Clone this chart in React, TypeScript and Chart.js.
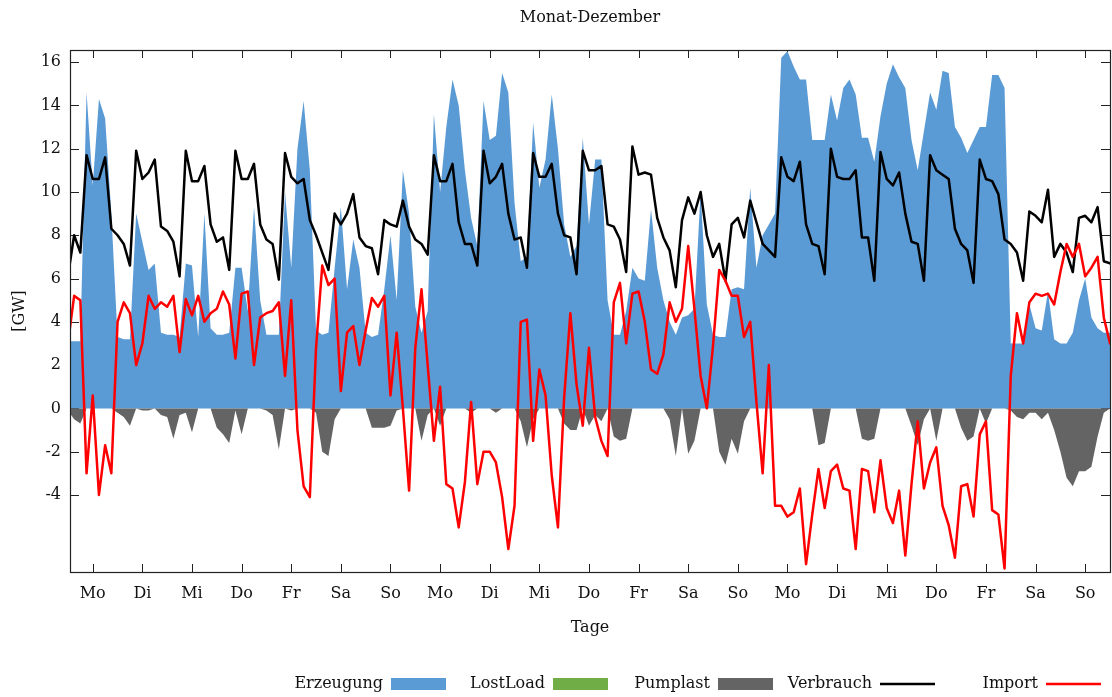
import React, { useEffect, useRef } from 'react';
import { Chart, registerables } from 'chart.js';

Chart.register(...registerables);

const FONT = '"DejaVu Serif", serif';
const TEXT = '#111111';

// x axis: hours of a 3-week period, tick every day at noon
const dayNames = ['Mo', 'Di', 'Mi', 'Do', 'Fr', 'Sa', 'So', 'Mo', 'Di', 'Mi', 'Do', 'Fr', 'Sa', 'So', 'Mo', 'Di', 'Mi', 'Do', 'Fr', 'Sa', 'So'];
const dayTickHours = [12, 36, 60, 84, 108, 132, 156, 180, 204, 228, 252, 276, 300, 324, 348, 372, 396, 420, 444, 468, 492];
const yTickValues = [-4, -2, 0, 2, 4, 6, 8, 10, 12, 14, 16];
const sampleStepHours = 3; // one value every 3 hours

// [GW], one row per day (8 samples), final value at hour 504
const erzeugung = [
  3.1, 3.1, 3.1, 14.6, 10.3, 14.3, 13.4, 9.0,
  3.3, 3.2, 3.2, 9.0, 7.7, 6.4, 6.7, 3.5,
  3.4, 3.4, 3.3, 6.7, 6.6, 3.3, 9.0, 3.7,
  3.4, 3.4, 3.5, 6.5, 6.5, 4.5, 9.3, 5.0,
  3.4, 3.4, 3.4, 10.0, 6.5, 12.0, 14.2, 11.0,
  3.6, 3.4, 3.5, 6.5, 9.3, 5.5, 7.8, 6.5,
  3.5, 3.3, 3.4, 5.5, 8.0, 5.0, 11.0, 9.0,
  4.7, 3.5, 4.5, 13.6, 10.0, 13.0, 15.2, 14.0,
  11.0, 8.8, 7.5, 14.2, 12.4, 12.6, 15.5, 14.6,
  9.5, 6.8, 7.0, 13.2, 10.2, 11.5, 14.5, 12.0,
  8.5, 7.0, 7.5, 12.5, 8.5, 11.5, 11.5, 5.0,
  3.4, 3.4, 4.5, 6.5, 6.0, 5.9, 9.2, 6.5,
  5.0, 4.0, 3.4, 4.2, 4.3, 4.6, 10.0, 4.8,
  3.4, 3.3, 3.3, 5.5, 5.6, 5.5, 10.2, 6.5,
  8.0, 8.5, 9.0, 16.2, 16.5, 15.8, 15.2, 15.2,
  12.4, 12.4, 12.4, 14.5, 13.3, 14.8, 15.2, 14.5,
  12.5, 12.5, 11.4, 13.5, 15.0, 15.9, 15.3, 14.8,
  12.4, 11.0, 12.8, 14.6, 13.8, 15.6, 15.5, 13.0,
  12.5, 11.8, 12.4, 13.0, 13.0, 15.4, 15.4, 14.8,
  3.0, 3.0, 3.0, 4.8, 3.7, 3.6, 5.4, 3.2,
  3.0, 3.0, 3.5, 5.0, 6.0, 4.2, 3.7, 3.5,
  3.5,
];

const lostLoad = [
  0, 0, 0, 0, 0, 0, 0, 0,
  0, 0, 0, 0, 0, 0, 0, 0,
  0, 0, 0, 0, 0, 0, 0, 0,
  0, 0, 0, 0, 0, 0, 0, 0,
  0, 0, 0, 0, 0, 0, 0, 0,
  0, 0, 0, 0, 0, 0, 0, 0,
  0, 0, 0, 0, 0, 0, 0, 0,
  0, 0, 0, 0, 0, 0, 0, 0,
  0, 0, 0, 0, 0, 0, 0, 0,
  0, 0, 0, 0, 0, 0, 0, 0,
  0, 0, 0, 0, 0, 0, 0, 0,
  0, 0, 0, 0, 0, 0, 0, 0,
  0, 0, 0, 0, 0, 0, 0, 0,
  0, 0, 0, 0, 0, 0, 0, 0,
  0, 0, 0, 0, 0, 0, 0, 0,
  0, 0, 0, 0, 0, 0, 0, 0,
  0, 0, 0, 0, 0, 0, 0, 0,
  0, 0, 0, 0, 0, 0, 0, 0,
  0, 0, 0, 0, 0, 0, 0, 0,
  0, 0, 0, 0, 0, 0, 0, 0,
  0, 0, 0, 0, 0, 0, 0, 0,
  0,
];

const pumplast = [
  -0.1, -0.5, -0.7, 0, 0, 0, 0, 0,
  -0.2, -0.4, -0.8, 0, -0.1, -0.1, 0, -0.3,
  -0.4, -1.4, -0.3, -0.2, -1.1, 0, 0, 0,
  -0.9, -1.2, -1.6, -0.1, -1.2, 0, 0, 0,
  -0.1, -0.3, -1.9, 0, -0.1, 0, 0, 0,
  -0.2, -2.0, -2.2, -0.5, 0, 0, 0, 0,
  0, -0.9, -0.9, -0.9, -0.8, -0.1, 0, 0,
  0, -1.5, -0.3, 0, -0.8, 0, 0, 0,
  0, -0.2, 0, 0, 0, -0.2, 0, 0,
  0, -0.6, -1.8, -0.5, 0, 0, 0, 0,
  -0.7, -1.0, -1.0, 0, -0.8, -0.3, -0.6, 0,
  -1.3, -1.5, -1.4, 0, 0, 0, 0, 0,
  0, -0.5, -2.2, 0, -2.1, -1.5, 0, 0,
  0, -2.0, -2.6, -1.4, -2.1, -0.6, 0, 0,
  0, 0, 0, 0, 0, 0, 0, 0,
  0, -1.7, -1.6, 0, 0, 0, 0, 0,
  -1.4, -1.5, -1.4, 0, 0, 0, 0, 0,
  -0.8, -1.7, -0.5, 0, -1.5, 0, 0, 0,
  -0.9, -1.5, -1.3, 0, -0.7, 0, 0, 0,
  -0.1, -0.4, -0.5, -0.2, -0.2, -0.5, -0.2, -1.0,
  -2.0, -3.2, -3.6, -2.9, -2.9, -2.7, -1.3, -0.2,
  0,
];

const verbrauch = [
  6.1, 8.0, 7.2, 11.7, 10.6, 10.6, 11.6, 8.3,
  8.0, 7.6, 6.6, 11.9, 10.6, 10.9, 11.5, 8.4,
  8.2, 7.7, 6.1, 11.9, 10.5, 10.5, 11.2, 8.5,
  7.7, 7.9, 6.4, 11.9, 10.6, 10.6, 11.3, 8.5,
  7.8, 7.6, 5.95, 11.8, 10.7, 10.4, 10.6, 8.7,
  8.0, 7.2, 6.4, 9.0, 8.5, 9.0, 9.9, 7.9,
  7.5, 7.4, 6.2, 8.7, 8.5, 8.4, 9.6, 8.4,
  7.8, 7.6, 7.1, 11.7, 10.5, 10.5, 11.3, 8.6,
  7.6, 7.6, 6.6, 11.9, 10.4, 10.7, 11.3, 9.0,
  7.8, 7.9, 6.5, 11.8, 10.7, 10.7, 11.3, 9.0,
  8.0, 7.9, 6.2, 11.9, 11.0, 11.0, 11.2, 8.5,
  8.4, 7.8, 6.3, 12.1, 10.8, 10.9, 10.8, 8.8,
  7.9, 7.3, 5.6, 8.7, 9.75, 9.0, 10.0, 8.0,
  7.0, 7.6, 5.9, 8.5, 8.8, 7.9, 9.6, 8.6,
  7.6, 7.3, 7.0, 11.6, 10.7, 10.5, 11.4, 8.5,
  7.6, 7.5, 6.2, 12.0, 10.7, 10.6, 10.6, 11.0,
  7.9, 7.9, 5.9, 11.85, 10.6, 10.3, 10.9, 9.0,
  7.7, 7.6, 5.9, 11.7, 11.0, 10.8, 10.6, 8.3,
  7.6, 7.3, 5.8, 11.5, 10.6, 10.5, 9.9, 7.8,
  7.6, 7.2, 5.9, 9.1, 8.9, 8.6, 10.1, 7.0,
  7.6, 7.2, 6.3, 8.8, 8.9, 8.6, 9.3, 6.8,
  6.7,
];

const importGW = [
  3.0, 5.2, 5.0, -3.0, 0.6, -4.0, -1.7, -3.0,
  4.0, 4.9, 4.4, 2.0, 3.0, 5.2, 4.6, 4.9,
  4.7, 5.2, 2.6, 5.05, 4.3, 5.2, 4.0, 4.4,
  4.6, 5.4, 4.8, 2.3, 5.3, 5.4, 2.0, 4.2,
  4.4, 4.5, 4.9, 1.5, 5.0, -1.0, -3.6, -4.1,
  2.8, 6.6, 5.7, 6.0, 0.8, 3.5, 3.8, 2.0,
  3.6, 5.1, 4.7, 5.2, 0.6, 3.5, 0.0, -3.8,
  2.8, 5.5, 2.0, -1.5, 1.0, -3.5, -3.7, -5.5,
  -3.4, 0.3, -3.5, -2.0, -2.0, -2.5, -4.1, -6.5,
  -4.5, 4.0, 4.1, -1.5, 1.8, 0.6, -3.1, -5.5,
  0.5, 4.4, 1.1, -0.8, 2.8, -0.4, -1.5, -2.2,
  4.9, 5.8, 3.0, 5.3, 5.4, 4.0, 1.8, 1.6,
  2.5, 4.9, 4.0, 4.6, 7.5, 4.6, 1.5, 0.0,
  2.9, 6.4, 5.9, 5.2, 5.2, 3.3, 4.0, 0.3,
  -3.0, 2.0, -4.5, -4.5, -5.0, -4.8, -3.7, -7.2,
  -4.9, -2.8, -4.6, -2.9, -2.6, -3.7, -3.8, -6.5,
  -2.8, -2.9, -4.8, -2.4, -4.6, -5.3, -3.8, -6.8,
  -3.5, -0.6, -3.7, -2.5, -1.8, -4.5, -5.4, -6.9,
  -3.6, -3.5, -5.0, -1.2, -0.6, -4.7, -4.9, -7.4,
  1.5, 4.4, 3.0, 4.9, 5.3, 5.2, 5.3, 4.8,
  6.3, 7.6, 7.0, 7.6, 6.1, 6.5, 7.0, 4.2,
  3.0,
];

const COLORS = {
  erzeugung: '#5b9bd5',
  lostLoad: '#70ad47',
  pumplast: '#646464',
  verbrauch: '#000000',
  import: '#ff0000',
};

const toPoints = (vals: number[]) => vals.map((y, i) => ({ x: i * sampleStepHours, y }));

const legendEntries = [
  { label: 'Erzeugung', color: COLORS.erzeugung, kind: 'box', sampleX: 391 },
  { label: 'LostLoad', color: COLORS.lostLoad, kind: 'box', sampleX: 553 },
  { label: 'Pumplast', color: COLORS.pumplast, kind: 'box', sampleX: 718 },
  { label: 'Verbrauch', color: COLORS.verbrauch, kind: 'line', sampleX: 880 },
  { label: 'Import', color: COLORS.import, kind: 'line', sampleX: 1046 },
];

const gnuplotFrame = {
  id: 'gnuplotFrame',
  beforeDatasetsDraw(chart: any) {
    const { ctx, chartArea: a, scales } = chart;
    ctx.save();
    ctx.strokeStyle = '#222222';
    ctx.lineWidth = 1;
    ctx.beginPath();
    for (const h of dayTickHours) {
      const x = Math.round(scales.x.getPixelForValue(h)) + 0.5;
      ctx.moveTo(x, a.bottom);
      ctx.lineTo(x, a.bottom - 8);
      ctx.moveTo(x, a.top);
      ctx.lineTo(x, a.top + 8);
    }
    for (const v of yTickValues) {
      const y = Math.round(scales.y.getPixelForValue(v)) + 0.5;
      ctx.moveTo(a.left, y);
      ctx.lineTo(a.left + 9, y);
      ctx.moveTo(a.right, y);
      ctx.lineTo(a.right - 9, y);
    }
    ctx.stroke();
    ctx.restore();
  },
  afterDraw(chart: any) {
    const { ctx, chartArea: a } = chart;
    ctx.save();
    ctx.strokeStyle = '#222222';
    ctx.lineWidth = 1.2;
    ctx.strokeRect(Math.round(a.left) + 0.5, Math.round(a.top) + 0.5, Math.round(a.right - a.left), Math.round(a.bottom - a.top));

    const cx = (a.left + a.right) / 2;
    ctx.fillStyle = TEXT;
    ctx.font = `16px ${FONT}`;
    ctx.textAlign = 'center';
    ctx.textBaseline = 'middle';
    ctx.fillText('Monat-Dezember', cx, 18);
    ctx.fillText('Tage', cx, 628);

    ctx.save();
    ctx.translate(20, (a.top + a.bottom) / 2);
    ctx.rotate(-Math.PI / 2);
    ctx.fillText('[GW]', 0, 0);
    ctx.restore();

    const ly = 684;
    for (const e of legendEntries) {
      ctx.fillStyle = TEXT;
      ctx.textAlign = 'right';
      ctx.fillText(e.label, e.sampleX - 8, ly);
      if (e.kind === 'box') {
        ctx.fillStyle = e.color;
        ctx.fillRect(e.sampleX, ly - 6, 55, 12);
      } else {
        ctx.strokeStyle = e.color;
        ctx.lineWidth = 2.5;
        ctx.beginPath();
        ctx.moveTo(e.sampleX, ly);
        ctx.lineTo(e.sampleX + 55, ly);
        ctx.stroke();
      }
    }
    ctx.restore();
  },
};

export default function App() {
  const canvasRef = useRef<HTMLCanvasElement | null>(null);

  useEffect(() => {
    document.body.style.margin = '0';
    const canvas = canvasRef.current;
    if (!canvas) return;
    const tickFont = { family: FONT, size: 16 };
    const chart = new Chart(canvas, {
      type: 'line',
      data: {
        datasets: [
          {
            label: 'Import',
            data: toPoints(importGW),
            borderColor: COLORS.import,
            borderWidth: 2.5,
            fill: false,
            order: 0,
          },
          {
            label: 'Verbrauch',
            data: toPoints(verbrauch),
            borderColor: COLORS.verbrauch,
            borderWidth: 2.5,
            fill: false,
            order: 1,
          },
          {
            label: 'Pumplast',
            data: toPoints(pumplast),
            borderWidth: 0,
            borderColor: 'rgba(0,0,0,0)',
            backgroundColor: COLORS.pumplast,
            fill: 'origin',
            order: 2,
          },
          {
            label: 'LostLoad',
            data: toPoints(lostLoad),
            borderWidth: 0,
            borderColor: 'rgba(0,0,0,0)',
            backgroundColor: COLORS.lostLoad,
            fill: 'origin',
            order: 3,
          },
          {
            label: 'Erzeugung',
            data: toPoints(erzeugung),
            borderWidth: 0,
            borderColor: 'rgba(0,0,0,0)',
            backgroundColor: COLORS.erzeugung,
            fill: 'origin',
            order: 4,
          },
        ],
      },
      options: {
        responsive: false,
        animation: false,
        devicePixelRatio: 1,
        layout: { padding: { left: 0, right: 2, top: 50, bottom: 0 } },
        elements: {
          point: { radius: 0, hoverRadius: 0 },
          line: { tension: 0, borderJoinStyle: 'round', borderCapStyle: 'round' },
        },
        plugins: {
          legend: { display: false },
          title: { display: false },
          tooltip: { enabled: false },
        },
        events: [],
        scales: {
          x: {
            type: 'linear',
            min: 1,
            max: 504,
            grid: { display: false, drawTicks: false },
            border: { display: false },
            ticks: {
              autoSkip: false,
              maxRotation: 0,
              padding: 12,
              color: TEXT,
              font: tickFont,
              callback: (v: any) => {
                const idx = dayTickHours.indexOf(Number(v));
                return idx >= 0 ? dayNames[idx] : '';
              },
            },
            afterBuildTicks: (s: any) => {
              s.ticks = dayTickHours.map((v) => ({ value: v }));
            },
            afterFit: (s: any) => {
              s.height = 125;
            },
          },
          y: {
            type: 'linear',
            min: -7.56,
            max: 16.56,
            grid: { display: false, drawTicks: false },
            border: { display: false },
            ticks: {
              padding: 9,
              color: TEXT,
              font: tickFont,
            },
            afterBuildTicks: (s: any) => {
              s.ticks = yTickValues.map((v) => ({ value: v }));
            },
            afterFit: (s: any) => {
              s.width = 70;
            },
          },
        },
      },
      plugins: [gnuplotFrame],
    });
    return () => chart.destroy();
  }, []);

  return (
    <div style={{ width: 1112, height: 697 }}>
      <canvas ref={canvasRef} width={1112} height={697} style={{ display: 'block' }} />
    </div>
  );
}
